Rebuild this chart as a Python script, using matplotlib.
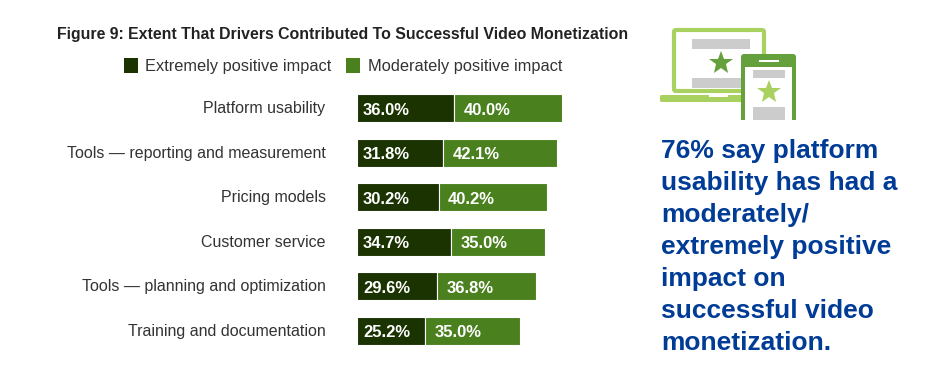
import matplotlib
matplotlib.use('Agg')
import matplotlib.pyplot as plt
from matplotlib.patches import FancyBboxPatch, Rectangle

plt.rcParams['font.family'] = ['Liberation Sans', 'DejaVu Sans']

W, H = 932, 369

categories = ['Platform usability', 'Tools \u2014 reporting and measurement', 'Pricing models',
              'Customer service', 'Tools \u2014 planning and optimization', 'Training and documentation']
extremely = [36.0, 31.8, 30.2, 34.7, 29.6, 25.2]
moderately = [40.0, 42.1, 40.2, 35.0, 36.8, 35.0]
legend_labels = ['Extremely positive impact', 'Moderately positive impact']
title = 'Figure 9: Extent That Drivers Contributed To Successful Video Monetization'
callout = ['76% say platform', 'usability has had a', 'moderately/', 'extremely positive',
           'impact on', 'successful video', 'monetization.']

DARK = '#1a3300'
MID = '#4a801e'
LIGHT = '#a9d15f'
LEAF = '#64a03c'
GREY = '#cccccc'
BLUE = '#003c96'
TEXT = '#333333'

fig = plt.figure(figsize=(W / 100, H / 100), dpi=100, facecolor='white')

# overlay in pixel coordinates for text and the icon
bg = fig.add_axes([0, 0, 1, 1])
bg.set_xlim(0, W)
bg.set_ylim(H, 0)
bg.axis('off')

# bar axes: 2.70 px per percent, rows 44.5 px apart
x0, y_top = 357.1, 86
ax = fig.add_axes([x0 / W, 1 - (y_top + 6 * 44.5) / H, 270 / W, 6 * 44.5 / H])
ax.set_xlim(0, 100)
ax.set_ylim(5.5, -0.5)
ax.axis('off')
ax.patch.set_alpha(0)

ypos = list(range(len(categories)))
ax.barh(ypos, extremely, height=0.63, color=DARK, edgecolor='white', linewidth=0.8)
ax.barh(ypos, moderately, left=extremely, height=0.63, color=MID, edgecolor='white', linewidth=0.8)

for i, cat in enumerate(categories):
    ax.text(-11.7, i + 0.01, cat, ha='right', va='center', fontsize=11.5, color=TEXT, clip_on=False)
    ax.text(2.2, i + 0.04, f'{extremely[i]:.1f}%', ha='left', va='center', fontsize=12,
            fontweight='bold', color='white')
    ax.text(extremely[i] + 3.5, i + 0.04, f'{moderately[i]:.1f}%', ha='left', va='center', fontsize=12,
            fontweight='bold', color='white')

bg.text(57, 34.5, title, fontsize=11.45, fontweight='bold', color='#222222', ha='left', va='center')

# legend
bg.add_patch(Rectangle((124, 58), 14, 15, color=DARK, lw=0))
bg.text(145, 66, legend_labels[0], fontsize=11.75, color=TEXT, va='center')
bg.add_patch(Rectangle((346, 58), 14, 15, color=MID, lw=0))
bg.text(368, 66, legend_labels[1], fontsize=11.75, color=TEXT, va='center')

# callout text
for i, line in enumerate(callout):
    bg.text(661, 151 + i * 32, line, fontsize=19.0, fontweight='bold', color=BLUE, va='center')

# laptop
bg.add_patch(FancyBboxPatch((674, 30), 90, 61, boxstyle='round,pad=0,rounding_size=2',
                            fc='white', ec=LIGHT, lw=3.0))
bg.add_patch(FancyBboxPatch((660, 95), 90, 7, boxstyle='round,pad=0,rounding_size=1.5', fc=LIGHT, lw=0))
bg.add_patch(Rectangle((709, 95), 19, 2, color='white', lw=0))
bg.add_patch(Rectangle((692, 39), 58, 10, color=GREY, lw=0))
bg.add_patch(Rectangle((692, 78), 58, 10, color=GREY, lw=0))
bg.plot([721], [63], marker='*', ms=18, color=LEAF, mew=0)

# phone
bg.add_patch(FancyBboxPatch((741, 54), 55, 70, boxstyle='round,pad=0,rounding_size=3', fc=LEAF, lw=0))
bg.add_patch(Rectangle((745, 67), 47, 60, color='white', lw=0))
bg.add_patch(Rectangle((759, 59.5), 20, 2.5, color='white', lw=0))
bg.add_patch(Rectangle((753, 70), 32, 8, color=GREY, lw=0))
bg.add_patch(Rectangle((753, 107), 32, 13, color=GREY, lw=0))
bg.plot([769], [92], marker='*', ms=18, color=LIGHT, mew=0)
bg.add_patch(Rectangle((735, 120), 70, 10, color='white', lw=0))

fig.savefig('out.png', dpi=100)
